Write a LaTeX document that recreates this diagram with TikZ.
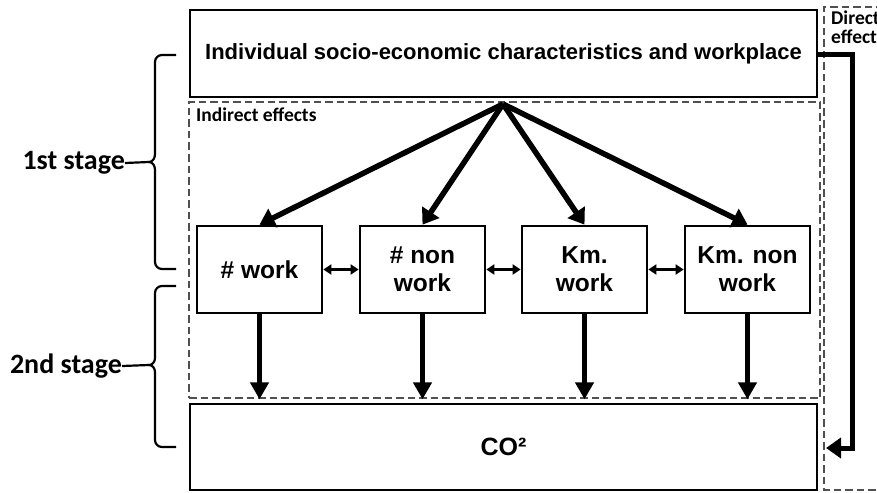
\documentclass[tikz,border=0pt]{standalone}
\usepackage{fontspec}
\setmainfont{Liberation Sans}
\newfontfamily\calfont{Carlito}
\usetikzlibrary{arrows.meta}
\definecolor{dashgray}{HTML}{505050}
\begin{document}
\begin{tikzpicture}[x=1pt,y=-1pt,
  box/.style={draw, line width=2.7pt, align=center, inner sep=0pt,
    font=\fontsize{24.5}{28}\selectfont\bfseries},
  smallbox/.style={box, minimum width=125pt, minimum height=87pt},
  dashbox/.style={draw=dashgray, line width=2.7pt, dash pattern=on 7.5pt off 4pt},
  fan/.style={line width=5.5pt, -{Triangle[length=15pt,width=20pt]}},
  down/.style={line width=5pt, -{Triangle[length=17pt,width=18pt]}},
  dbl/.style={line width=2.6pt, {Triangle[length=8pt,width=10pt]}-{Triangle[length=8pt,width=10pt]}},
  brace/.style={line width=2.2pt, line join=round},
  stagelbl/.style={font=\calfont\fontsize{28}{31}\selectfont\bfseries, anchor=east, inner sep=0pt},
  efflbl/.style={font=\calfont\fontsize{19.5}{18.5}\selectfont\bfseries, inner sep=0pt}
]
\useasboundingbox (0,0) rectangle (877,492);

% dashed frames
\node[dashbox, minimum width=631pt, minimum height=296pt, inner sep=0pt] (ind) at (504.5,250) {};
\node[efflbl, anchor=north west] (indlbl) at (196,108) {Indirect effects};
\draw[dashbox] (895,7) -- (824,7) -- (824,490) -- (895,490);
\node[efflbl, anchor=north west, align=left] (dirlbl) at (831,11) {Direct\\effect};

% main boxes
\node[box, font=\fontsize{22}{25}\selectfont\bfseries, minimum width=627pt, minimum height=87pt] (top) at (503.5,53.5) {Individual socio-economic characteristics and workplace};
\node[box, font=\fontsize{25}{28}\selectfont\bfseries, minimum width=627pt, minimum height=86pt] (co) at (503.5,447) {CO²};

\node[smallbox] (b1) at (259.5,269.5) {\# work};
\node[smallbox] (b2) at (422.5,269.5) {\# non\\work};
\node[smallbox] (b3) at (584.5,269.5) {Km.\\work};
\node[smallbox] (b4) at (747.5,269.5) {Km. non\\work};

% fan arrows
\coordinate (src) at (503,104);
\draw[fan] (src) -- (b1.north);
\draw[fan] (src) -- (b2.north);
\draw[fan] (src) -- (b3.north);
\draw[fan] (src) -- (b4.north);

% double arrows
\draw[dbl] (b1.east) -- (b2.west);
\draw[dbl] (b2.east) -- (b3.west);
\draw[dbl] (b3.east) -- (b4.west);

% down arrows
\draw[down] (b1.south) -- (b1.south |- ind.south);
\draw[down] (b2.south) -- (b2.south |- ind.south);
\draw[down] (b3.south) -- (b3.south |- ind.south);
\draw[down] (b4.south) -- (b4.south |- ind.south);

% direct effect arrow
\coordinate (dend) at (826,448);
\draw[line width=5pt, -{Triangle[length=15pt,width=20pt]}] (top.east |- 0,55) -| (852,448) -- (dend);

% braces
\node[stagelbl] (s1) at (125,163) {1st stage};
\node[stagelbl] (s2) at (122,366) {2nd stage};
\draw[brace] (176,55) -- (162,55) to[out=180,in=90] (155,62) -- (155,154)
  to[out=-90,in=0] (149,162) to[out=0,in=90] (155,170) -- (155,262)
  to[out=-90,in=180] (162,269) -- (176,269);
\draw[brace] (s1.east) -- (149,162);
\draw[brace] (176,286) -- (162,286) to[out=180,in=90] (155,293) -- (155,358)
  to[out=-90,in=0] (149,365) to[out=0,in=90] (155,372) -- (155,440)
  to[out=-90,in=180] (162,447) -- (176,447);
\draw[brace] (s2.east) -- (149,365);
\end{tikzpicture}
\end{document}
